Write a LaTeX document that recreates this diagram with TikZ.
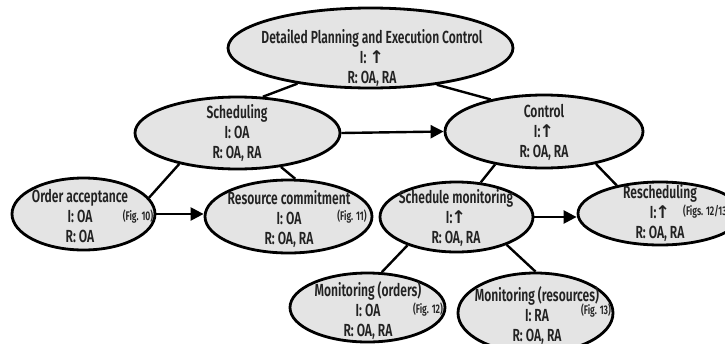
\documentclass[tikz,border=0pt]{standalone}
\usepackage{fontspec}
\usetikzlibrary{shapes.geometric,arrows.meta}
\newfontfamily\labfont{Fira Sans SemiBold}[FakeStretch=0.69]
\newfontfamily\symfont{DejaVu Sans Bold}
\newcommand{\uparr}{{\symfont\char"2191}}
\definecolor{bubble}{HTML}{E4E4E4}
\definecolor{ink}{HTML}{222222}
\tikzset{
  bubble/.style={ellipse, draw=black, line width=2.8pt, fill=bubble, inner sep=0pt},
  txt/.style={align=center, text=ink, font=\labfont\fontsize{17.5}{20}\selectfont, inner sep=0pt},
  figref/.style={text=ink, font=\labfont\fontsize{12.5}{13}\selectfont, inner sep=0pt},
  link/.style={line width=2.4pt, draw=black},
  flow/.style={line width=2.4pt, draw=black, -{Triangle[length=13pt,width=13pt]}}
}
\begin{document}
\begin{tikzpicture}[x=1pt,y=-1pt]
\clip (0,0) rectangle (725,343);
% ellipses
\node[bubble, minimum width=285pt, minimum height=80pt] (top) at (370.5,48) {};
\node[bubble, minimum width=205pt, minimum height=72pt] (sched) at (237.5,133) {};
\node[bubble, minimum width=198pt, minimum height=73pt] (ctrl) at (544,131.5) {};
\node[bubble, minimum width=143pt, minimum height=72pt] (order) at (83.5,214) {};
\node[bubble, minimum width=167pt, minimum height=73pt] (rc) at (288.5,216.5) {};
\node[bubble, minimum width=153pt, minimum height=70pt] (sm) at (456.5,217) {};
\node[bubble, minimum width=164pt, minimum height=63pt] (resch) at (660,213.5) {};
\node[bubble, minimum width=155pt, minimum height=69pt] (mo) at (367.5,307.5) {};
\node[bubble, minimum width=155pt, minimum height=80pt] (mr) at (535.5,313) {};
% texts
\node[txt] (ttop) at (372,58) {Detailed Planning and Execution Control\\I: \uparr\\R: OA, RA};
\node[txt] (tsched) at (237,133) {Scheduling\\I: OA\\R: OA, RA};
\node[txt] (tctrl) at (544,132) {Control\\I:\kern-1pt\uparr\\R: OA, RA};
\node[txt] (torder) at (80,216) {Order acceptance\\I: OA\\R: OA};
\node[txt] (trc) at (289,219) {Resource commitment\\I: OA\\R: OA, RA};
\node[txt] (tsm) at (456,218) {Schedule monitoring\\I:\kern-1pt\uparr\\R: OA, RA};
\node[txt] (tresch) at (660,212.5) {Rescheduling\\I:\kern-1pt\uparr\\R: OA, RA};
\node[txt] (tmo) at (368,311) {Monitoring (orders)\\I: OA\\R: OA, RA};
\node[txt] (tmr) at (537,316) {Monitoring (resources)\\I: RA\\R: OA, RA};
% figure references
\node[figref] (f10) at (138,217) {(Fig. 10)};
\node[figref] (f11) at (352,217) {(Fig. 11)};
\node[figref] (f12) at (428,310) {(Fig. 12)};
\node[figref] (f13) at (596,311) {(Fig. 13)};
\node[figref, anchor=west] (f1213) at (683,212) {(Figs. 12/13)};
% hierarchy links
\draw[link] (top.206) -- (sched.55);
\draw[link] (top.331) -- (ctrl.149);
\draw[link] (sched.208) -- (order.14);
\draw[link] (sched.-38) -- (rc.80);
\draw[link] (ctrl.214) -- (sm.55);
\draw[link] (ctrl.328) -- (resch.147);
\draw[link] (sm.210) -- (mo.68);
\draw[link] (sm.-29) -- (mr.90);
% sequence arrows
\draw[flow] (sched.east) -- (ctrl.west);
\draw[flow] (order.east) -- (order.east -| rc.west);
\draw[flow] (sm.east) -- (sm.east -| resch.west);
\end{tikzpicture}
\end{document}
